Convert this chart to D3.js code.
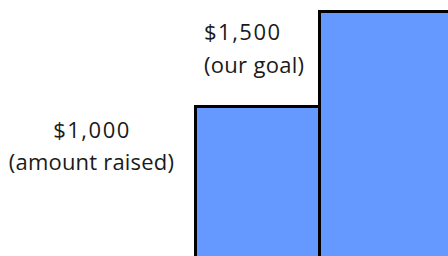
<!DOCTYPE html>
<html><head><meta charset="utf-8">
<script src="https://cdn.jsdelivr.net/npm/d3@7"></script>
<style>html,body{margin:0;padding:0;background:#fff;overflow:hidden}</style>
</head><body>
<script>
const categories = ["raised", "goal"];
const values = [1000, 1500];
const amountLabels = ["$1,000", "$1,500"];
const noteLabels = ["(amount raised)", "(our goal)"];

const W = 448, H = 256;
const svg = d3.select("body").append("svg").attr("width", W).attr("height", H);

const x = d3.scaleBand().domain(categories).range([195.5, 443.5]).padding(0);
const y = d3.scaleLinear().domain([0, 1500]).range([296.5, 11.5]);

svg.selectAll("rect.bar").data(values).join("rect")
  .attr("class", "bar")
  .attr("x", (d, i) => x(categories[i]))
  .attr("y", d => y(d))
  .attr("width", (d, i) => i === categories.length - 1 ? x.bandwidth() + 20 : x.bandwidth())
  .attr("height", d => y(0) - y(d) + 10)
  .attr("fill", "#6699ff")
  .attr("stroke", "#000")
  .attr("stroke-width", 3);

const font = "'Open Sans', sans-serif";
const fs = 22;
const g1 = svg.append("text").attr("font-family", font).attr("font-size", fs).attr("fill", "#1a1a1a")
  .attr("text-anchor", "middle");
g1.append("tspan").attr("x", 92).attr("y", y(values[0]) + 31).attr("letter-spacing", 1.5).text(amountLabels[0]);
g1.append("tspan").attr("x", 91.5).attr("y", y(values[0]) + 63).attr("letter-spacing", 0.2).text(noteLabels[0]);

const g2 = svg.append("text").attr("font-family", font).attr("font-size", fs).attr("fill", "#1a1a1a")
  .attr("text-anchor", "start");
g2.append("tspan").attr("x", 204).attr("y", y(values[1]) + 28).attr("letter-spacing", 1.5).text(amountLabels[1]);
g2.append("tspan").attr("x", 204).attr("y", y(values[1]) + 61).attr("letter-spacing", 0.3).text(noteLabels[1]);
</script>
</body></html>
